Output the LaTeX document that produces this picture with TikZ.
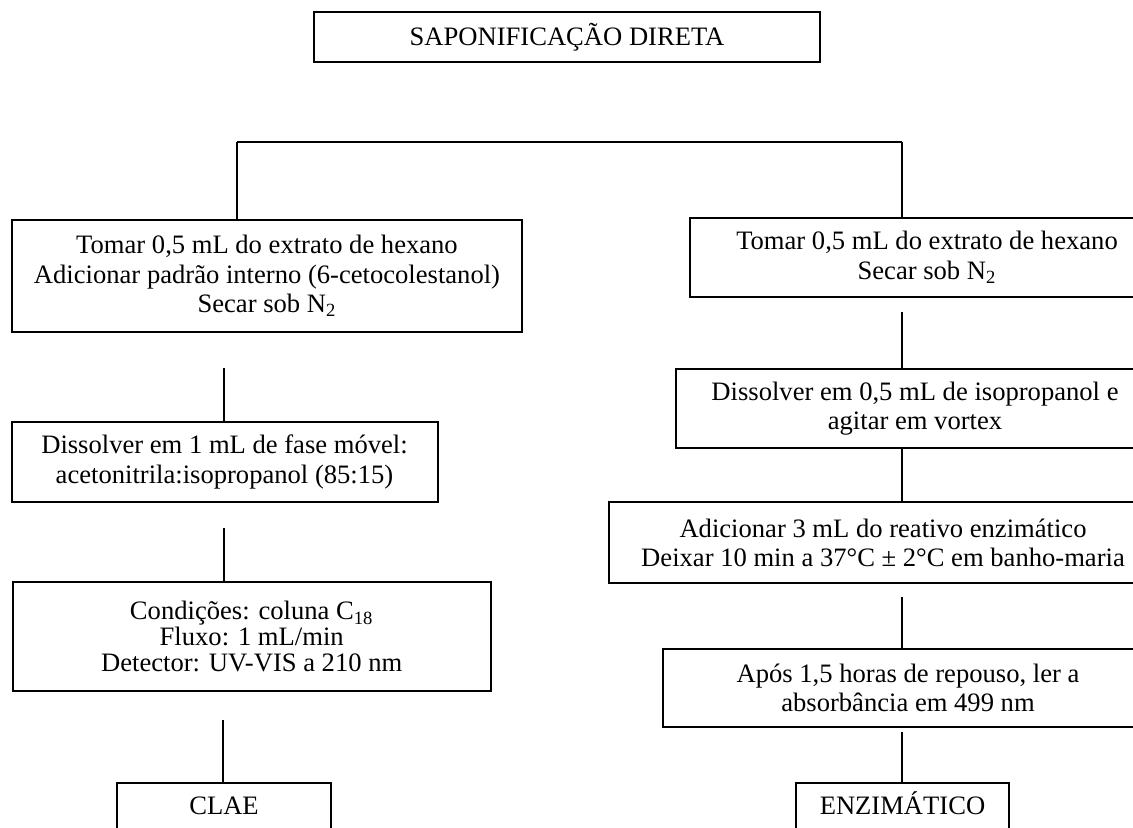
\documentclass[tikz,border=0pt]{standalone}
\usepackage{fontspec}
\setmainfont{Liberation Serif}
\begin{document}
\tikzset{
  box/.style={draw, line width=1pt, align=center, inner sep=0pt, font=\fontsize{13.3}{14.6}\selectfont},
  endbox/.style={box, anchor=north, text height=9pt, text depth=40pt, inner ysep=6.5pt},
  conn/.style={line width=0.7pt},
  bar/.style={line width=1pt}
}
\begin{tikzpicture}[x=0.5pt,y=-0.5pt]
\useasboundingbox (0,0) rectangle (1133,827);
\clip (0,0) rectangle (1133,827);

\node[box, minimum width=253pt, minimum height=25pt] (top) at (567,37) {SAPONIFICAÇÃO DIRETA};

% left column
\node[box, minimum width=254.75pt, minimum height=56pt] (L1) at (267,276)
  {Tomar 0,5 mL do extrato de hexano\\Adicionar padrão interno (6-cetocolestanol)\\Secar sob N\textsubscript{2}};
\node[box, minimum width=213pt, minimum height=40pt] (L2) at (224.5,462)
  {Dissolver em 1 mL de fase móvel:\\acetonitrila:isopropanol (85:15)};
\node[box, minimum width=239pt, minimum height=54.5pt] (L3) at (251.7,636.5)
  {Condições: coluna C\textsubscript{18}\\[-1.8pt]Fluxo: 1 mL/min\\[-1.8pt]Detector: UV-VIS a 210 nm};
\node[endbox, minimum width=107pt] (CLAE) at (224,782) {CLAE};

% right column
\node[box, minimum width=237pt, minimum height=39.5pt] (R1) at (927,257.5)
  {Tomar 0,5 mL do extrato de hexano\\Secar sob N\textsubscript{2}};
\node[box, minimum width=239pt, minimum height=39.5pt] (R2) at (915,408.5)
  {Dissolver em 0,5 mL de isopropanol e\\agitar em vortex};
\node[box, minimum width=274pt, minimum height=40.5pt] (R3) at (883,542.5)
  {Adicionar 3 mL do reativo enzimático\\Deixar 10 min a 37°C ± 2°C em banho-maria};
\node[box, minimum width=245pt, minimum height=39pt] (R4) at (908,688)
  {Após 1,5 horas de repouso, ler a\\absorbância em 499 nm};
\node[endbox, minimum width=106.5pt] (ENZ) at (902.5,782) {ENZIMÁTICO};

% connectors
\coordinate (jL) at (237,142);
\coordinate (jR) at (902,142);
\draw[bar] (jL) -- (jR);
\draw[conn] (jL) -- (jL |- L1.north);
\draw[conn] (jR) -- (jR |- R1.north);

\coordinate (c1) at (224,368);
\draw[conn] (c1) -- (c1 |- L2.north);
\coordinate (c2) at (224,528);
\draw[conn] (c2) -- (c2 |- L3.north);
\coordinate (c3) at (223,720);
\draw[conn] (c3) -- (c3 |- CLAE.north);

\coordinate (c4) at (902,312);
\draw[conn] (c4) -- (c4 |- R2.north);
\draw[conn] (R2.south -| jR) -- (R3.north -| jR);
\coordinate (c6) at (902,597);
\draw[conn] (c6) -- (c6 |- R4.north);
\coordinate (c7) at (902,732);
\draw[conn] (c7) -- (c7 |- ENZ.north);
\end{tikzpicture}
\end{document}
